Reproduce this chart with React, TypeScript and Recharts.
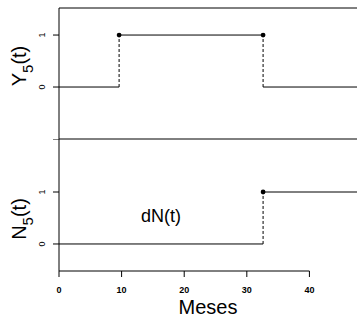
import React from "react"
import { ComposedChart, Line, Scatter, XAxis, YAxis, ReferenceLine } from "recharts"

// step functions (months)
const monthTicks = [0, 10, 20, 30, 40]
const levelTicks = [0, 1]
const y5Steps = [
  { from: 0, to: 9.6, value: 0 },
  { from: 9.6, to: 32.6, value: 1 },
  { from: 32.6, to: 47.6, value: 0 },
]
const y5Jumps = [9.6, 32.6]
const n5Steps = [
  { from: 0, to: 32.6, value: 0 },
  { from: 32.6, to: 47.6, value: 1 },
]
const n5Jumps = [32.6]

const X_DOMAIN: [number, number] = [0, 47.6]
const FONT = "'Liberation Sans', Arial, sans-serif"

const segs = (steps: { from: number; to: number; value: number }[]) =>
  steps.map((s) => [
    { t: s.from, v: s.value },
    { t: s.to, v: s.value },
  ])
const jumps = (ts: number[]) => ts.map((t) => [{ t, v: 0 }, { t, v: 1 }])
const dots = (ts: number[]) => ts.map((t) => ({ t, v: 1 }))

const YTick = (props: any) => {
  const { x, y, payload } = props
  if (payload.value > 1.5) return null
  const bx = x - 6
  return (
    <text x={bx} y={y} transform={`rotate(-90, ${bx}, ${y})`} textAnchor="middle" fontSize={9} fontFamily={FONT} fill="#000">
      {payload.value}
    </text>
  )
}

const XTick = (props: any) => {
  const { x, y, payload } = props
  return (
    <text x={x} y={y + 14} textAnchor="middle" fontSize={9} fontWeight="bold" fontFamily={FONT} fill="#000">
      {payload.value}
    </text>
  )
}

const AxisTitle = ({ letter, cy }: { letter: string; cy: number }) => {
  const bx = 26
  return (
    <text x={bx} y={cy} transform={`rotate(-90, ${bx}, ${cy})`} textAnchor="middle" fontSize={20} fontFamily={FONT} fill="#000">
      <tspan>{letter}</tspan>
      <tspan dy={7} fontSize={15}>5</tspan>
      <tspan dy={-7}>(t)</tspan>
    </text>
  )
}

const Dot = (p: any) => <circle cx={p.cx} cy={p.cy} r={2.4} fill="#000" />

function Panel(steps: { from: number; to: number; value: number }[], jumpTimes: number[]) {
  return (
    <>
      {segs(steps).map((d, i) => (
        <Line key={`s${i}`} data={d} dataKey="v" stroke="#000" strokeWidth={1} dot={false} isAnimationActive={false} />
      ))}
      {jumps(jumpTimes).map((d, i) => (
        <Line key={`j${i}`} data={d} dataKey="v" stroke="#000" strokeWidth={1} strokeDasharray="3 2" dot={false} isAnimationActive={false} />
      ))}
      <Scatter data={dots(jumpTimes)} dataKey="v" shape={Dot} isAnimationActive={false} />
    </>
  )
}

export default function App() {
  return (
    <div style={{ position: "absolute", left: 0, top: 0, width: 357, height: 321, background: "#fff" }}>
      <div style={{ position: "absolute", left: 0, top: 0 }}>
        <ComposedChart width={357} height={140} margin={{ top: 8, right: 0, bottom: 0, left: 0 }}>
          <XAxis dataKey="t" type="number" domain={X_DOMAIN} allowDataOverflow height={1} tick={false} tickLine={false} axisLine={{ stroke: "#000" }} />
          <YAxis
            type="number"
            domain={[-1, 1.52]}
            allowDataOverflow
            ticks={levelTicks}
            width={59}
            tickSize={6}
            tickLine={{ stroke: "#000" }}
            axisLine={{ stroke: "#000" }}
            tick={YTick}
          />
          <ReferenceLine y={1.52} stroke="#000" />
          {Panel(y5Steps, y5Jumps)}
        </ComposedChart>
      </div>
      <div style={{ position: "absolute", left: 0, top: 139 }}>
        <ComposedChart width={357} height={182} margin={{ top: 0, right: 0, bottom: 0, left: 0 }}>
          <XAxis
            dataKey="t"
            type="number"
            domain={X_DOMAIN}
            allowDataOverflow
            ticks={monthTicks}
            height={50}
            tickSize={6}
            tickLine={{ stroke: "#000" }}
            axisLine={false}
            tick={XTick}
          />
          <YAxis
            type="number"
            domain={[-0.52, 2.02]}
            allowDataOverflow
            ticks={[...levelTicks, 2.02]}
            width={59}
            tickSize={6}
            tickLine={{ stroke: "#000" }}
            axisLine={{ stroke: "#000" }}
            tick={YTick}
          />
          <ReferenceLine
            segment={[
              { x: monthTicks[0], y: -0.52 },
              { x: monthTicks[monthTicks.length - 1], y: -0.52 },
            ]}
            stroke="#000"
          />
          {Panel(n5Steps, n5Jumps)}
        </ComposedChart>
      </div>
      <svg width={357} height={321} style={{ position: "absolute", left: 0, top: 0, pointerEvents: "none" }}>
        <AxisTitle letter="Y" cy={66} />
        <AxisTitle letter="N" cy={219} />
        <text x={161} y={222} textAnchor="middle" fontSize={18} fontFamily={FONT} fill="#000">
          dN(t)
        </text>
        <text x={208} y={314} textAnchor="middle" fontSize={20} fontFamily={FONT} fill="#000">
          Meses
        </text>
      </svg>
    </div>
  )
}
